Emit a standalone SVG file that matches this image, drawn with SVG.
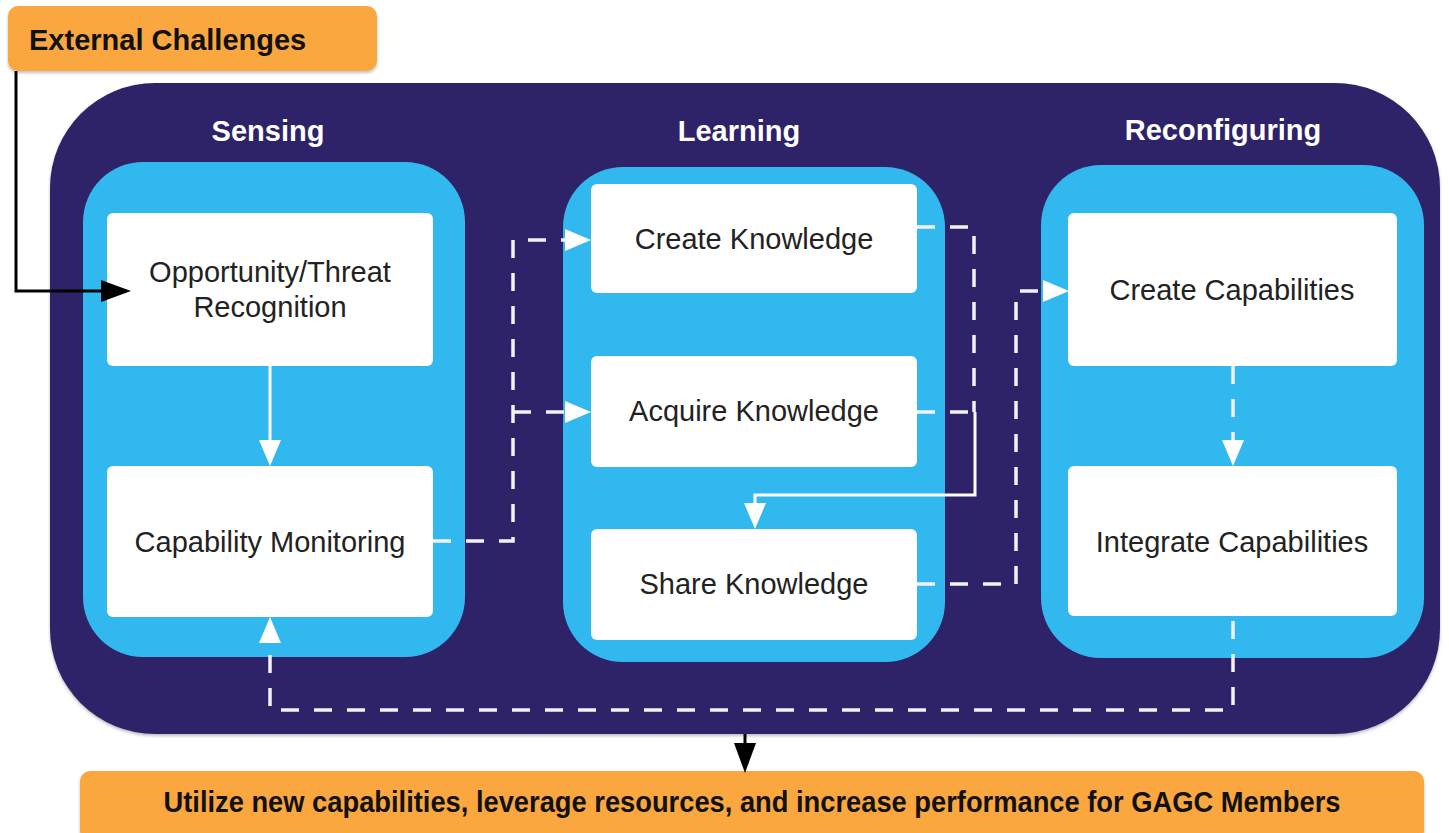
<svg xmlns="http://www.w3.org/2000/svg" width="1449" height="833" viewBox="0 0 1449 833">
<style>
.orange{fill:#FBA73F;}
.panel{fill:#2E2267;}
.col{fill:#31B8EF;}
.box{fill:#FFFFFF;}
.hdr{font-family:"Liberation Sans",Arial,sans-serif;font-weight:bold;font-size:29px;fill:#FFFFFF;text-anchor:middle;}
.lbl{font-family:"Liberation Sans",Arial,sans-serif;font-size:29px;fill:#222222;text-anchor:middle;}
.olbl{font-family:"Liberation Sans",Arial,sans-serif;font-weight:bold;font-size:29px;fill:#111111;}
.blk{fill:none;stroke:#000000;stroke-width:3;}
.wsol{fill:none;stroke:#FFFFFF;stroke-width:3;}
.wdash{fill:none;stroke:#F4F2F8;stroke-width:3.5;stroke-dasharray:18 15;}
</style>
<defs>
<marker id="wArrow" viewBox="0 0 26 22" refX="0" refY="11" markerWidth="26" markerHeight="22" markerUnits="userSpaceOnUse" orient="auto">
<path d="M0,0 L26,11 L0,22 Z" fill="#FFFFFF"/>
</marker>
<marker id="bArrow" viewBox="0 0 30 22" refX="0" refY="11" markerWidth="30" markerHeight="22" markerUnits="userSpaceOnUse" orient="auto">
<path d="M0,0 L30,11 L0,22 Z" fill="#000000"/>
</marker>
<filter id="sh" x="-5%" y="-5%" width="110%" height="115%">
<feDropShadow dx="0" dy="2" stdDeviation="1.5" flood-color="#000000" flood-opacity="0.25"/>
</filter>
</defs>

<g id="panel">
<rect class="panel" x="50" y="83" width="1390" height="651" rx="105" ry="105" filter="url(#sh)"/>
</g>

<g id="external-challenges">
<rect class="orange" x="8" y="6" width="369" height="65" rx="10" ry="10" filter="url(#sh)"/>
<text class="olbl" x="29" y="50">External Challenges</text>
</g>

<g id="sensing">
<rect class="col" x="83" y="162" width="382" height="495" rx="60" ry="60"/>
<text class="hdr" x="268" y="141">Sensing</text>
</g>
<g id="learning">
<rect class="col" x="563" y="167" width="382" height="495" rx="60" ry="60"/>
<text class="hdr" x="739" y="141">Learning</text>
</g>
<g id="reconfiguring">
<rect class="col" x="1041" y="165" width="383" height="493" rx="60" ry="60"/>
<text class="hdr" x="1223" y="140">Reconfiguring</text>
</g>

<g id="opportunity-threat-recognition">
<rect class="box" x="107" y="213" width="326" height="153" rx="6" ry="6"/>
<text class="lbl" x="270" y="282">Opportunity/Threat</text>
<text class="lbl" x="270" y="317">Recognition</text>
</g>
<g id="capability-monitoring">
<rect class="box" x="107" y="466" width="326" height="151" rx="6" ry="6"/>
<text class="lbl" x="270" y="552">Capability Monitoring</text>
</g>
<g id="create-knowledge">
<rect class="box" x="591" y="184" width="326" height="109" rx="6" ry="6"/>
<text class="lbl" x="754" y="249">Create Knowledge</text>
</g>
<g id="acquire-knowledge">
<rect class="box" x="591" y="356" width="326" height="111" rx="6" ry="6"/>
<text class="lbl" x="754" y="421">Acquire Knowledge</text>
</g>
<g id="share-knowledge">
<rect class="box" x="591" y="529" width="326" height="111" rx="6" ry="6"/>
<text class="lbl" x="754" y="594">Share Knowledge</text>
</g>
<g id="create-capabilities">
<rect class="box" x="1068" y="213" width="329" height="153" rx="6" ry="6"/>
<text class="lbl" x="1232" y="300">Create Capabilities</text>
</g>
<g id="integrate-capabilities">
<rect class="box" x="1068" y="466" width="329" height="150" rx="6" ry="6"/>
<text class="lbl" x="1232" y="552">Integrate Capabilities</text>
</g>

<g id="outcome">
<rect class="orange" x="80" y="771" width="1344" height="70" rx="10" ry="10" filter="url(#sh)"/>
<text class="olbl" x="752" y="812" text-anchor="middle" font-size="27" textLength="1177" lengthAdjust="spacingAndGlyphs">Utilize new capabilities, leverage resources, and increase performance for GAGC Members</text>
</g>

<g id="connectors">
<path class="blk" d="M16,71 V291 H101" marker-end="url(#bArrow)"/>
<path class="wsol" d="M270,366 V440" marker-end="url(#wArrow)"/>
<path class="wdash" d="M433,541 H513 V240 H565" marker-end="url(#wArrow)"/>
<path class="wdash" d="M513,412 H565" marker-end="url(#wArrow)"/>
<path class="wdash" d="M917,227 H974 V412"/>
<path class="wdash" d="M917,412 H974"/>
<path class="wsol" d="M975,412 V495 H755 V503" marker-end="url(#wArrow)"/>
<path class="wdash" d="M917,584 H1016 V291 H1043" marker-end="url(#wArrow)"/>
<path class="wdash" d="M1233,366 V440" marker-end="url(#wArrow)"/>
<path class="wdash" d="M1233,621 V710 H270 V643" marker-end="url(#wArrow)"/>
<path class="blk" d="M745,734 V743" marker-end="url(#bArrow)"/>
</g>
</svg>
